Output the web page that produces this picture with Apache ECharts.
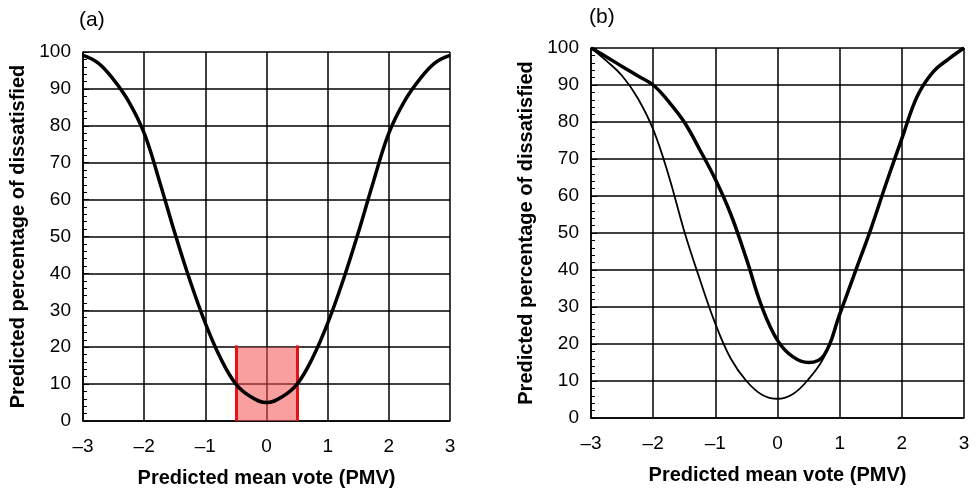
<!DOCTYPE html>
<html>
<head>
<meta charset="utf-8">
<script src="https://cdn.jsdelivr.net/npm/echarts@6/dist/echarts.min.js"></script>
<style>html,body{margin:0;padding:0;background:#fff}#c{width:977px;height:493px}</style>
</head>
<body>
<div id="c"></div>
<script>
const pmv = [-3, -2.75, -2.5, -2.25, -2, -1.75, -1.5, -1.25, -1, -0.75, -0.5, -0.25, 0, 0.25, 0.5, 0.75, 1, 1.25, 1.5, 1.75, 2, 2.25, 2.5, 2.75, 3];
const ppdA = [99.1, 97, 92.5, 86.5, 78, 65, 51, 38, 26.5, 17, 10, 6.5, 5, 6.5, 10, 17, 26.5, 38, 51, 65, 78, 86.5, 92.5, 97, 99.1];
const ppdBThick = [100, 97.6, 95, 92.5, 90, 85.5, 80, 72.5, 64.5, 55, 43, 30, 21, 16.5, 15, 17, 28, 39.5, 51, 63.5, 75.5, 87, 93.5, 97, 100];
const ppdBThin = [100, 96.5, 92.5, 86.5, 78, 65.5, 50.5, 37.5, 25.5, 16, 10, 6.3, 5.2, 6.5, 10.5, 16.5, 28, 39.5, 51, 63.5, 75.5, 87, 93.5, 97, 100];
const comfortBand = [-0.5, 0.5];
const comfortMax = 20;

const pairs = (ys) => pmv.map((x, i) => [x, ys[i]]);
const FONT = 'Liberation Sans, Arial, Helvetica, sans-serif';

function xAxisCfg(gi) {
  return {
    type: 'value', gridIndex: gi, min: -3, max: 3, interval: 1,
    name: 'Predicted mean vote (PMV)', nameLocation: 'middle', nameGap: 47,
    nameTextStyle: { fontFamily: FONT, fontWeight: 'bold', fontSize: 20, color: '#000' },
    axisLine: { onZero: false, lineStyle: { color: '#000', width: 1.5 } },
    axisTick: { show: false },
    axisLabel: { fontFamily: FONT, fontSize: 19, color: '#000', margin: 16,
      formatter: v => (v < 0 ? '\u2013' + Math.abs(v) : String(v)) },
    splitLine: { show: true, lineStyle: { color: '#000', width: 1.5 } }
  };
}
function yAxisCfg(gi) {
  return {
    type: 'value', gridIndex: gi, min: 0, max: 100, interval: 10,
    name: 'Predicted percentage of dissatisfied', nameLocation: 'middle', nameGap: 55,
    nameTextStyle: { fontFamily: FONT, fontWeight: 'bold', fontSize: 20, color: '#000' },
    axisLine: { show: true, onZero: false, lineStyle: { color: '#000', width: 1.5 } },
    axisTick: { show: true, inside: true, length: 6, lineStyle: { color: '#000', width: 1 } },
    minorTick: { show: true, splitNumber: 5, length: 4, lineStyle: { color: '#000', width: 1 } },
    axisLabel: { fontFamily: FONT, fontSize: 19, color: '#000', margin: 12 },
    splitLine: { show: true, lineStyle: { color: '#000', width: 1.5 } }
  };
}

const chart = echarts.init(document.getElementById('c'), null, { renderer: 'canvas' });
chart.setOption({
  backgroundColor: '#fff',
  animation: false,
  title: [
    { text: '(a)', left: 74, top: 5, textStyle: { fontFamily: FONT, fontWeight: 'normal', fontSize: 21, color: '#000' } },
    { text: '(b)', left: 584, top: 2, textStyle: { fontFamily: FONT, fontWeight: 'normal', fontSize: 21, color: '#000' } }
  ],
  grid: [
    { left: 83, top: 52, width: 367, height: 371 },
    { left: 591, top: 48, width: 373, height: 370 }
  ],
  xAxis: [xAxisCfg(0), xAxisCfg(1)],
  yAxis: [yAxisCfg(0), yAxisCfg(1)],
  series: [
    {
      type: 'line', xAxisIndex: 0, yAxisIndex: 0, data: [], silent: true,
      markArea: { silent: true, itemStyle: { color: 'rgba(245,80,80,0.55)' },
        data: [[{ coord: [comfortBand[0], 0] }, { coord: [comfortBand[1], comfortMax] }]] },
      markLine: { silent: true, symbol: 'none', label: { show: false },
        lineStyle: { color: '#e41414', width: 3, type: 'solid' },
        data: comfortBand.map(x => [{ coord: [x, 0] }, { coord: [x, comfortMax + 0.5] }]) }
    },
    { type: 'line', xAxisIndex: 0, yAxisIndex: 0, data: pairs(ppdA), smooth: 0.4, showSymbol: false,
      lineStyle: { color: '#000', width: 3.5 }, z: 5 },
    { type: 'line', xAxisIndex: 1, yAxisIndex: 1, data: pairs(ppdBThin), smooth: 0.4, showSymbol: false,
      lineStyle: { color: '#000', width: 1.8 }, z: 5 },
    { type: 'line', xAxisIndex: 1, yAxisIndex: 1, data: pairs(ppdBThick), smooth: 0.4, showSymbol: false,
      lineStyle: { color: '#000', width: 3.5 }, z: 6 }
  ]
});
</script>
</body>
</html>
